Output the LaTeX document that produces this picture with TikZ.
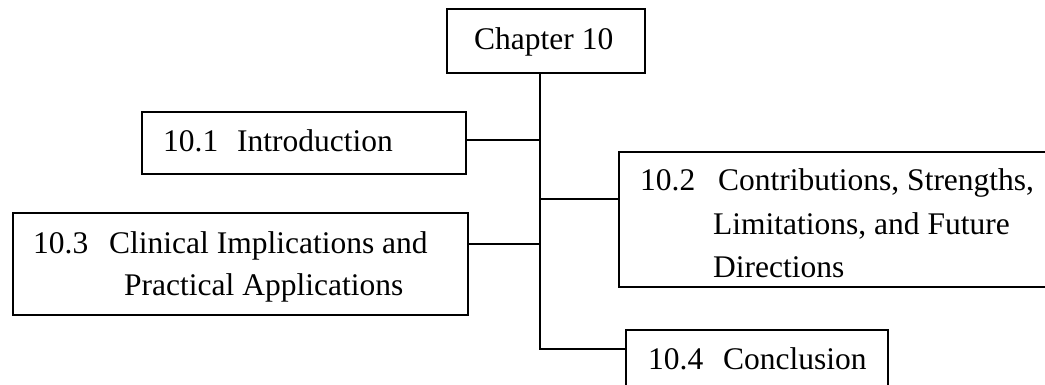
\documentclass[tikz,border=0pt]{standalone}
\usepackage{fontspec}
\setmainfont{Liberation Serif}
\usetikzlibrary{calc}
\begin{document}
\begin{tikzpicture}[x=1pt,y=-1pt,
  box/.style={draw, line width=1.7pt, rectangle, inner sep=0pt, anchor=north west},
  link/.style={line width=1.7pt},
  lbl/.style={anchor=base west, inner sep=0pt, font=\fontsize{31.5}{42}\selectfont}]
\clip (0,0) rectangle (1045,385);
\fill[white] (0,0) rectangle (1045,385);

% boxes
\node[box, minimum width=198pt, minimum height=64pt]  (ch)   at (446,8)   {};
\node[box, minimum width=324pt, minimum height=62pt]  (s101) at (141,111) {};
\node[box, minimum width=460pt, minimum height=135pt] (s102) at (618,151) {};
\node[box, minimum width=455pt, minimum height=102pt] (s103) at (12,212)  {};
\node[box, minimum width=262pt, minimum height=80pt]  (s104) at (625,329) {};

% labels
\node[lbl] (tch)   at (474,50)  {Chapter 10};
\node[lbl] (n101)  at (163,152) {10.1};
\node[lbl] (t101)  at (237,152) {Introduction};
\node[lbl] (n102)  at (640,191) {10.2};
\node[lbl] (t102a) at (718,191) {Contributions, Strengths,};
\node[lbl] (t102b) at (713,234) {Limitations, and Future};
\node[lbl] (t102c) at (713,277) {Directions};
\node[lbl] (n103)  at (33,253)  {10.3};
\node[lbl] (t103a) at (109,253) {Clinical Implications and};
\node[lbl] (t103b) at (124,295) {Practical Applications};
\node[lbl] (n104)  at (648,369) {10.4};
\node[lbl] (t104)  at (723,369) {Conclusion};

% trunk and branches
\coordinate (tr) at (540,0);
\coordinate (j101) at ($(s101.north east)+(0,29)$);
\coordinate (j102) at ($(s102.north west)+(0,48)$);
\coordinate (j103) at ($(s103.north east)+(0,32)$);
\coordinate (j104) at ($(s104.north west)+(0,20)$);
\draw[link] (ch.south -| tr) -- (tr |- j104) -- (j104);
\draw[link] (j101) -- (tr |- j101);
\draw[link] (tr |- j102) -- (j102);
\draw[link] (j103) -- (tr |- j103);
\end{tikzpicture}
\end{document}
